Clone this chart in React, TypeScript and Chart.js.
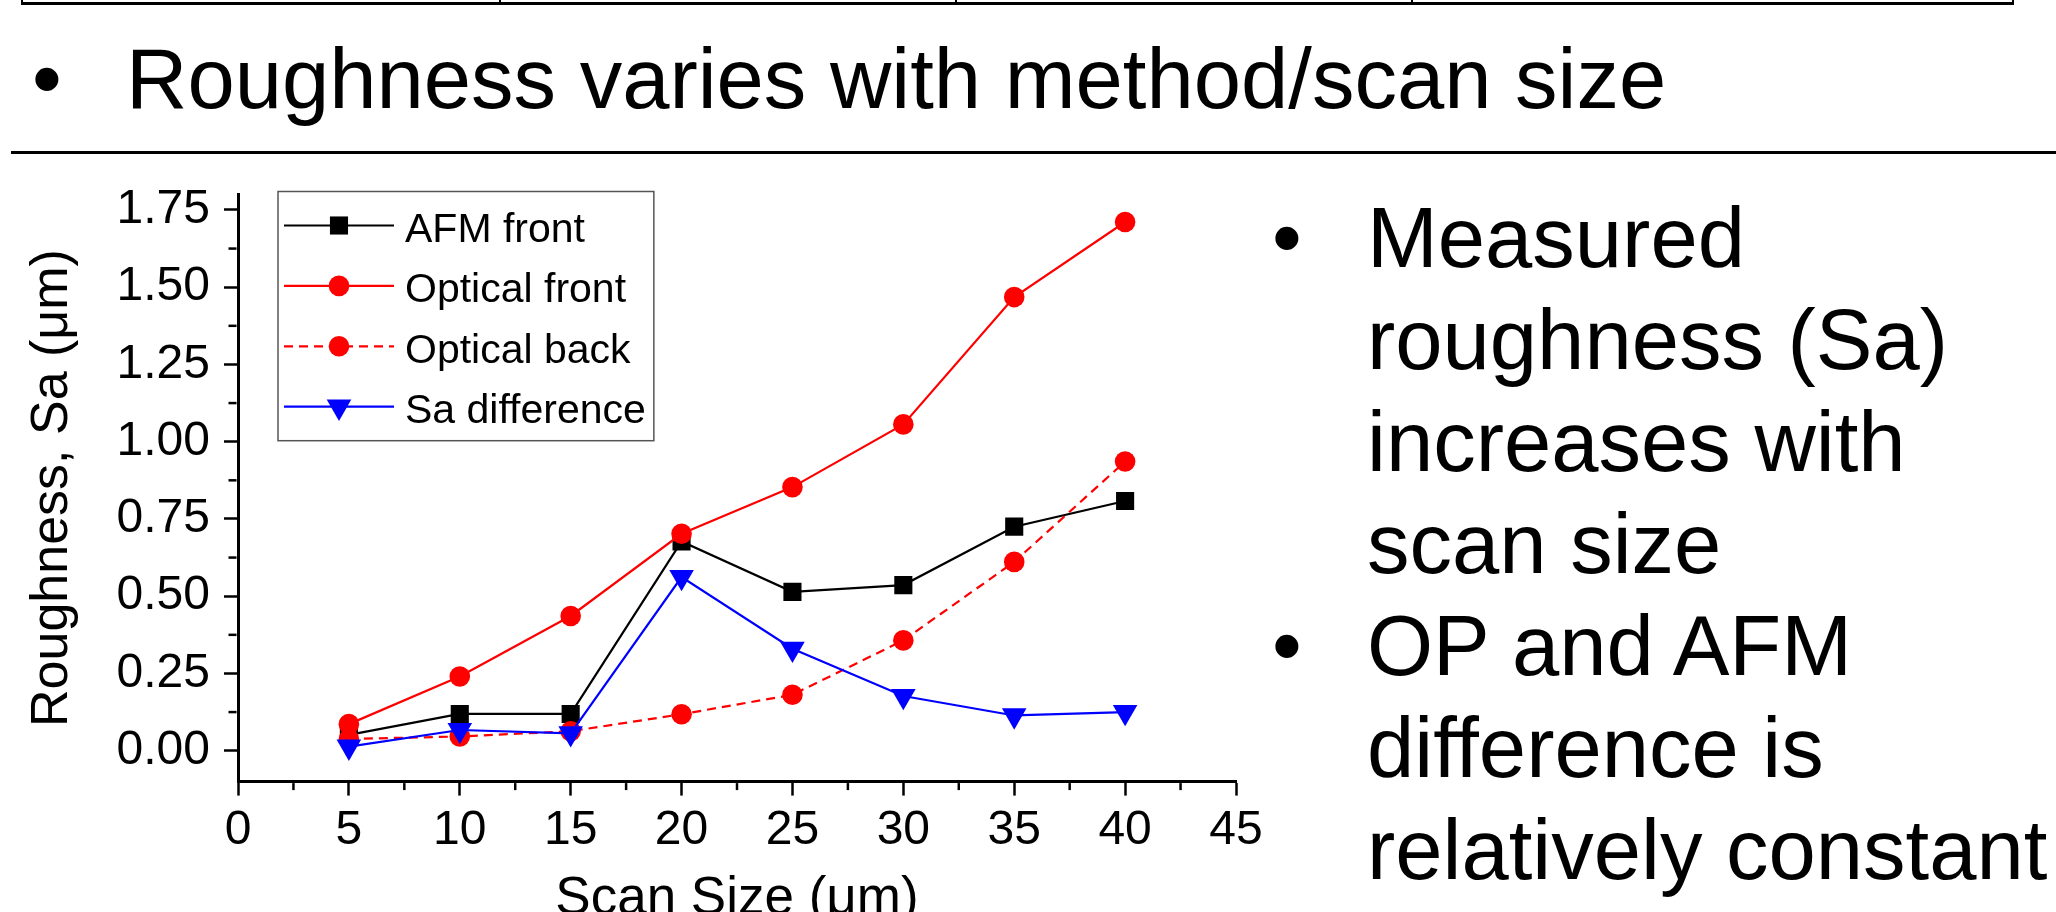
import React, { useEffect, useRef } from "react";
import { Chart, registerables } from "chart.js";
import { drawPoint } from "chart.js/helpers";

Chart.register(...registerables);

// ---------- data ----------
const scanSizes = [5, 10, 15, 20, 25, 30, 35, 40];
const afmFront = [0.051, 0.119, 0.119, 0.677, 0.514, 0.536, 0.725, 0.808];
const opticalFront = [0.086, 0.24, 0.436, 0.702, 0.853, 1.056, 1.468, 1.711];
const opticalBack = [0.038, 0.046, 0.063, 0.118, 0.181, 0.357, 0.611, 0.936];
const saDifference = [0.013, 0.067, 0.056, 0.562, 0.33, 0.177, 0.114, 0.125];

const seriesLabels = ["AFM front", "Optical front", "Optical back", "Sa difference"];
const xTickValues = [0, 5, 10, 15, 20, 25, 30, 35, 40, 45];
const yTickValues = [0, 0.25, 0.5, 0.75, 1.0, 1.25, 1.5, 1.75];
const xTickStep = 5;
const yTickStep = 0.25;

const titleText = "Roughness varies with method/scan size";
const bulletLines = [
  { text: "Measured", bullet: true },
  { text: "roughness (Sa)", bullet: false },
  { text: "increases with", bullet: false },
  { text: "scan size", bullet: false },
  { text: "OP and AFM", bullet: true },
  { text: "difference is", bullet: false },
  { text: "relatively constant", bullet: false },
];

const FONT = '"Liberation Sans", Arial, Helvetica, sans-serif';

const toPoints = (ys: number[]) => scanSizes.map((x, i) => ({ x, y: ys[i] }));

// minor ticks between the major ones (axis decoration)
const minorTicksPlugin = {
  id: "minorTicks",
  afterDraw(chart: any) {
    const { ctx, chartArea, scales } = chart;
    ctx.save();
    ctx.strokeStyle = "#000";
    ctx.lineWidth = 2.5;
    const ys = scales.y;
    for (let v = yTickStep / 2; v < ys.max; v += yTickStep) {
      if (v < ys.min) continue;
      const py = ys.getPixelForValue(v);
      ctx.beginPath();
      ctx.moveTo(chartArea.left - 1.5, py);
      ctx.lineTo(chartArea.left - 1.5 - 8, py);
      ctx.stroke();
    }
    const xs = scales.x;
    for (let v = xTickStep / 2; v < xs.max; v += xTickStep) {
      const px = xs.getPixelForValue(v);
      ctx.beginPath();
      ctx.moveTo(px, chartArea.bottom + 1.5);
      ctx.lineTo(px, chartArea.bottom + 1.5 + 7);
      ctx.stroke();
    }
    ctx.restore();
  },
};

// boxed legend inside the plot, with line + marker samples
const boxLegendPlugin = {
  id: "boxLegend",
  afterDraw(chart: any) {
    const { ctx, chartArea } = chart;
    const datasets = chart.data.datasets;
    ctx.save();
    ctx.font = `41px ${FONT}`;
    const left = chartArea.left + 40;
    const top = chartArea.top - 3;
    const rowH = 60.4;
    const firstRow = 34;
    const sampleLeft = left + 6;
    const sampleW = 110;
    const textX = left + 127;
    const maxW = Math.max(...datasets.map((d: any) => ctx.measureText(d.label).width));
    const right = textX + maxW + 8;
    const bottom = top + firstRow * 2 + rowH * (datasets.length - 1);
    ctx.fillStyle = "#fff";
    ctx.fillRect(left, top, right - left, bottom - top);
    ctx.strokeStyle = "#555";
    ctx.lineWidth = 1.5;
    ctx.strokeRect(left, top, right - left, bottom - top);
    datasets.forEach((ds: any, i: number) => {
      const cy = top + firstRow + i * rowH;
      ctx.beginPath();
      ctx.setLineDash(ds.borderDash || []);
      ctx.strokeStyle = ds.borderColor;
      ctx.lineWidth = ds.borderWidth;
      ctx.moveTo(sampleLeft, cy);
      ctx.lineTo(sampleLeft + sampleW, cy);
      ctx.stroke();
      ctx.setLineDash([]);
      ctx.fillStyle = ds.pointBackgroundColor;
      ctx.strokeStyle = ds.pointBorderColor;
      drawPoint(
        ctx,
        {
          pointStyle: ds.pointStyle,
          radius: ds.pointRadius,
          rotation: ds.pointRotation || 0,
          borderWidth: 0,
        } as any,
        sampleLeft + sampleW / 2,
        cy
      );
      ctx.fillStyle = "#000";
      ctx.textBaseline = "alphabetic";
      ctx.textAlign = "left";
      ctx.fillText(ds.label, textX, cy + 16.5);
    });
    ctx.restore();
  },
};

export default function App() {
  const canvasRef = useRef<HTMLCanvasElement>(null);

  useEffect(() => {
    const canvas = canvasRef.current;
    if (!canvas) return;
    const common = (color: string, style: string, radius: number, order: number, extra: any = {}) => ({
      borderColor: color,
      backgroundColor: color,
      pointBackgroundColor: color,
      pointBorderColor: color,
      borderWidth: 2.2,
      pointStyle: style,
      pointRadius: radius,
      pointBorderWidth: 0,
      tension: 0,
      fill: false,
      order,
      ...extra,
    });
    const chart = new Chart(canvas, {
      type: "line",
      data: {
        datasets: [
          { label: seriesLabels[0], data: toPoints(afmFront), ...common("#000000", "rect", 12.8, 4) },
          { label: seriesLabels[1], data: toPoints(opticalFront), ...common("#ff0000", "circle", 10.3, 3) },
          {
            label: seriesLabels[2],
            data: toPoints(opticalBack),
            ...common("#ff0000", "circle", 10.3, 2, { borderDash: [9, 6] }),
          },
          {
            label: seriesLabels[3],
            data: toPoints(saDifference),
            ...common("#0000ff", "triangle", 14.2, 1, { pointRotation: 180 }),
          },
        ] as any,
      },
      options: {
        responsive: false,
        animation: false,
        devicePixelRatio: 1,
        events: [],
        layout: { padding: { left: 0, top: 44.5, right: 64, bottom: 0 } },
        plugins: {
          legend: { display: false },
          tooltip: { enabled: false },
        },
        scales: {
          x: {
            type: "linear",
            min: 0,
            max: 45,
            bounds: "data",
            afterBuildTicks: (s: any) => {
              s.ticks = xTickValues.map((value) => ({ value }));
            },
            ticks: {
              autoSkip: false,
              maxRotation: 0,
              padding: 6,
              color: "#000",
              font: { family: FONT, size: 48 },
              callback: (v: any) => String(v),
            },
            grid: {
              display: true,
              drawOnChartArea: false,
              drawTicks: true,
              tickLength: 14,
              tickWidth: 2.5,
              tickColor: "#000",
            },
            border: { display: true, width: 3, color: "#000" },
            title: {
              display: true,
              text: "Scan Size (μm)",
              color: "#000",
              font: { family: FONT, size: 53 },
              padding: { top: 0, bottom: 48.6 },
            },
            afterFit: (s: any) => {
              s.height = 198.4;
            },
          },
          y: {
            type: "linear",
            min: -0.1,
            max: 1.8,
            bounds: "data",
            afterBuildTicks: (s: any) => {
              s.ticks = yTickValues.map((value) => ({ value }));
            },
            ticks: {
              autoSkip: false,
              padding: 14,
              color: "#000",
              font: { family: FONT, size: 48 },
              callback: (v: any) => Number(v).toFixed(2),
            },
            grid: {
              display: true,
              drawOnChartArea: false,
              drawTicks: true,
              tickLength: 14,
              tickWidth: 2.5,
              tickColor: "#000",
            },
            border: { display: true, width: 3, color: "#000" },
            title: {
              display: true,
              text: "Roughness, Sa (μm)",
              color: "#000",
              font: { family: FONT, size: 52 },
              padding: { top: 21, bottom: 0 },
            },
            afterFit: (s: any) => {
              s.width = 238;
            },
          },
        },
      } as any,
      plugins: [minorTicksPlugin, boxLegendPlugin],
    });
    return () => chart.destroy();
  }, []);

  const textStyle = (left: number, baseline: number): React.CSSProperties => ({
    position: "absolute",
    left,
    top: baseline - 72,
    fontSize: 85,
    lineHeight: "85px",
    whiteSpace: "nowrap",
    color: "#000",
    fontFamily: FONT,
  });

  return (
    <div
      style={{
        position: "absolute",
        left: 0,
        top: 0,
        width: 2056,
        height: 912,
        overflow: "hidden",
        background: "#fff",
        fontFamily: FONT,
      }}
    >
      {/* table edge at the top */}
      <div
        style={{
          position: "absolute",
          left: 21,
          top: -20,
          width: 1989,
          height: 22,
          borderLeft: "2px solid #000",
          borderRight: "2px solid #000",
          borderBottom: "3px solid #000",
        }}
      />
      {[500, 956, 1412].map((x) => (
        <div
          key={x}
          style={{ position: "absolute", left: x - 1, top: 0, width: 2, height: 4, background: "#000" }}
        />
      ))}

      {/* slide title */}
      <div style={textStyle(32, 108)}>•</div>
      <div style={textStyle(126, 108)}>{titleText}</div>

      {/* rule */}
      <div
        style={{ position: "absolute", left: 11, top: 150.5, width: 2045, height: 3, background: "#000" }}
      />

      {/* chart */}
      <canvas
        ref={canvasRef}
        width={1300}
        height={830}
        style={{ position: "absolute", left: 0, top: 150, width: 1300, height: 830 }}
      />

      {/* bullet text */}
      {bulletLines.map((l, i) => {
        const baseline = 266.6 + i * 102.05;
        return (
          <React.Fragment key={i}>
            {l.bullet && <div style={textStyle(1272, baseline)}>•</div>}
            <div style={textStyle(1367, baseline)}>{l.text}</div>
          </React.Fragment>
        );
      })}
    </div>
  );
}
